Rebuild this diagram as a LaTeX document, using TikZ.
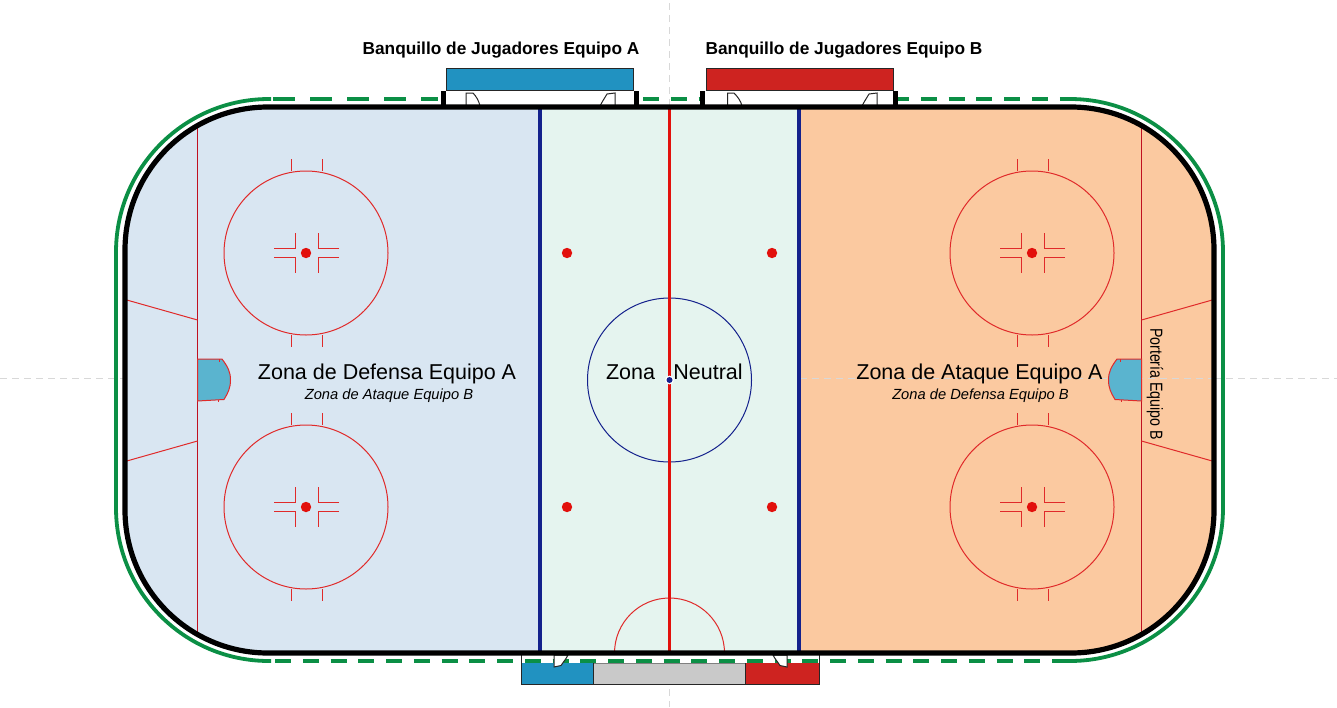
\documentclass[tikz,border=0pt]{standalone}
\usepackage{fontspec}
\setmainfont{Liberation Sans}
\definecolor{zblue}{HTML}{D9E6F2}
\definecolor{zneutral}{HTML}{E5F4EF}
\definecolor{zorange}{HTML}{FBC9A0}
\definecolor{lblue}{HTML}{14218C}
\definecolor{lred}{HTML}{E2100C}
\definecolor{fred}{HTML}{E02A2A}
\definecolor{gline}{HTML}{0B8F45}
\definecolor{benchblue}{HTML}{2192C1}
\definecolor{benchred}{HTML}{CE2320}
\definecolor{crease}{HTML}{5AB4CF}
\definecolor{axis}{HTML}{D8D8D8}
\definecolor{glred}{HTML}{C01020}
\tikzset{
  thinred/.style={draw=fred,line width=1pt},
  goalline/.style={draw=glred,line width=1pt},
  greenline/.style={draw=gline,line width=3.8pt},
  axisline/.style={draw=axis,line width=0.9pt,dash pattern=on 7pt off 5pt},
  post/.style={fill=black},
  door/.style={draw=black!85,line width=1pt,fill=white},
  creasebox/.style={fill=crease,draw=fred,line width=1pt},
  bluefill/.style={draw=black!85,line width=1pt},
  title/.style={font=\fontsize{17.3}{20}\selectfont\bfseries,inner sep=0pt,anchor=center},
  zonetext/.style={font=\fontsize{21.5}{24}\selectfont,inner sep=0pt,anchor=center},
  subtext/.style={font=\fontsize{14.7}{16}\selectfont\itshape,inner sep=0pt,anchor=center}
}
\newcommand{\facecircle}[2]{%
  \begin{scope}[shift={(#1,#2)}]
    \draw[thinred] (0,0) circle (82);
    \draw[thinred] (-15,-82) -- (-15,-94) (16,-82) -- (16,-94);
    \draw[thinred] (-15,82) -- (-15,94) (16,82) -- (16,94);
    \draw[thinred] (-32,-5) -- (-11,-5) -- (-11,-20);
    \draw[thinred] (-32,4.5) -- (-11,4.5) -- (-11,20);
    \draw[thinred] (33,-5) -- (12,-5) -- (12,-20);
    \draw[thinred] (33,4.5) -- (12,4.5) -- (12,20);
    \fill[lred] (0,0) circle (5.2);
  \end{scope}}
\begin{document}
\begin{tikzpicture}[x=1pt,y=-1pt]
\useasboundingbox (0,0) rectangle (1337,707);
% axes
\draw[axisline] (0,378.5) -- (125,378.5);
\draw[axisline] (1214,378.5) -- (1337,378.5);
\draw[axisline] (669.5,3) -- (669.5,107);
\draw[axisline] (669.5,653) -- (669.5,707);
% zones
\begin{scope}
  \clip[rounded corners=143] (125,107) rectangle (1214,653);
  \fill[zblue] (125,107) rectangle (540,653);
  \fill[zneutral] (540,107) rectangle (799,653);
  \fill[zorange] (799,107) rectangle (1214,653);
  \draw[axisline] (800,378.5) -- (1214,378.5);
  \draw[goalline] (197.5,107) -- (197.5,653);
  \draw[goalline] (1141.5,107) -- (1141.5,653);
  \draw[thinred] (125,299.5) -- (197.5,320);
  \draw[thinred] (125,461.5) -- (197.5,441);
  \draw[thinred] (1214,299.5) -- (1141.5,320);
  \draw[thinred] (1214,461.5) -- (1141.5,441);
\end{scope}
% face-off circles
\facecircle{306}{253}
\facecircle{306}{507}
\facecircle{1032}{253}
\facecircle{1032}{507}
% neutral dots
\fill[lred] (567,253) circle (5.2);
\fill[lred] (772,253) circle (5.2);
\fill[lred] (567,507) circle (5.2);
\fill[lred] (772,507) circle (5.2);
% centre
\draw[draw=lblue,line width=1pt] (669.5,380) circle (82);
\draw[thinred] (614.5,653) arc[start angle=180,end angle=360,radius=55];
\draw[draw=lblue,line width=3.8pt] (540,107) -- (540,653);
\draw[draw=lblue,line width=3.8pt] (799,107) -- (799,653);
\draw[draw=lred,line width=3.8pt] (669.5,107) -- (669.5,653);
\fill[white] (669.5,380) circle (4.4);
\fill[lblue] (669.5,380) circle (3);
% creases
\path[creasebox] (197.5,359) -- (222,359) .. controls (228,367) and (230.5,372) .. (230.5,380) .. controls (230.5,388) and (228,393) .. (224,399.5) -- (197.5,401) -- cycle;
\draw[thinred] (219,359) -- (219,361.5) (218,399.5) -- (218,402);
\path[creasebox] (1141.5,359) -- (1117,359) .. controls (1111,367) and (1108.5,372) .. (1108.5,380) .. controls (1108.5,388) and (1111,393) .. (1115,399.5) -- (1141.5,401) -- cycle;
\draw[thinred] (1120,359) -- (1120,361.5) (1121,399.5) -- (1121,402);
% green boards
\draw[greenline,rounded corners=153] (271,99) -- (116,99) -- (116,661) -- (271,661);
\draw[greenline,rounded corners=153] (1068,99) -- (1223,99) -- (1223,661) -- (1068,661);
\draw[greenline,dash pattern=on 21.5pt off 15.5pt] (273,99) -- (438,99);
\draw[greenline,dash pattern=on 16pt off 11.8pt] (643,99) -- (699,99);
\draw[greenline,dash pattern=on 16pt off 11.8pt,dash phase=5pt] (898,99) -- (1068,99);
% benches top
\fill[white] (443,90) rectangle (637,107);
\fill[white] (702,90) rectangle (896,107);
\draw[bluefill,fill=benchblue] (446,68) rectangle (633.5,90);
\draw[bluefill,fill=benchred] (706,68) rectangle (893,90);
\fill[post] (441,91) rectangle (446,107);
\fill[post] (634,91) rectangle (639,107);
\fill[post] (699.5,91) rectangle (705,107);
\fill[post] (893,91) rectangle (898,107);
\draw[door] (466,106) -- (466,93) -- (473,93) .. controls (476,96) and (479,101) .. (480,106);
\draw[door] (615,106) -- (615,93) -- (607,94) .. controls (604,99) and (602,102) .. (600,106);
\draw[door] (727.5,106) -- (727.5,93) -- (734,93) .. controls (737,96) and (741,101) .. (742,106);
\draw[door] (877,106) -- (877,93) -- (869,94) .. controls (866,99) and (864,102) .. (862,106);
% bench bottom
\fill[white] (521.5,653) rectangle (819,663);
\draw[draw=black!85,line width=1pt] (521.5,655) -- (521.5,663) (819,655) -- (819,663);
\fill[benchblue] (521.5,663) rectangle (593,684.5);
\fill[benchred] (745,663) rectangle (819,684.5);
\fill[black!21] (593,663) rectangle (745,684.5);
\draw[draw=black!50,line width=0.8pt] (593,663) -- (745,663);
\draw[draw=black!85,line width=1pt] (521.5,663) -- (521.5,684.5) -- (819,684.5) -- (819,663);
\draw[draw=black!85,line width=1pt] (593,663) -- (593,684.5) (745,663) -- (745,684.5);
\draw[greenline,dash pattern=on 16pt off 11.75pt] (275,660.7) -- (1068,660.7);
\path[fill=white,draw=black!85,line width=1pt] (554,655) -- (554,667) -- (561,665.5) .. controls (564,661) and (566,659) .. (568,655) -- cycle;
\path[fill=white,draw=black!85,line width=1pt] (787,655) -- (787,667) -- (780,665.5) .. controls (777,661) and (775,659) .. (773,655) -- cycle;
% rink outline
\draw[draw=black,line width=5.2pt,rounded corners=143] (125,107) rectangle (1214,653);
% texts
\node[title] (benchA) at (501,50.5) {Banquillo de Jugadores Equipo A};
\node[title] (benchB) at (844,50.5) {Banquillo de Jugadores Equipo B};
\node[zonetext] (defA) at (387,374) {Zona de Defensa Equipo A};
\node[subtext] (ataB) at (389,396) {Zona de Ataque Equipo B};
\node[zonetext] (zona) at (630.5,372) {Zona};
\node[zonetext] (neutral) at (708,372) {Neutral};
\node[zonetext] (ataA) at (979.5,374) {Zona de Ataque Equipo A};
\node[subtext] (defB) at (980.5,396) {Zona de Defensa Equipo B};
\node[inner sep=0pt,rotate=-90,font=\fontsize{17.5}{20}\selectfont] (port) at (1155,384) {\resizebox{112pt}{\height}{Portería Equipo B}};
\end{tikzpicture}
\end{document}
